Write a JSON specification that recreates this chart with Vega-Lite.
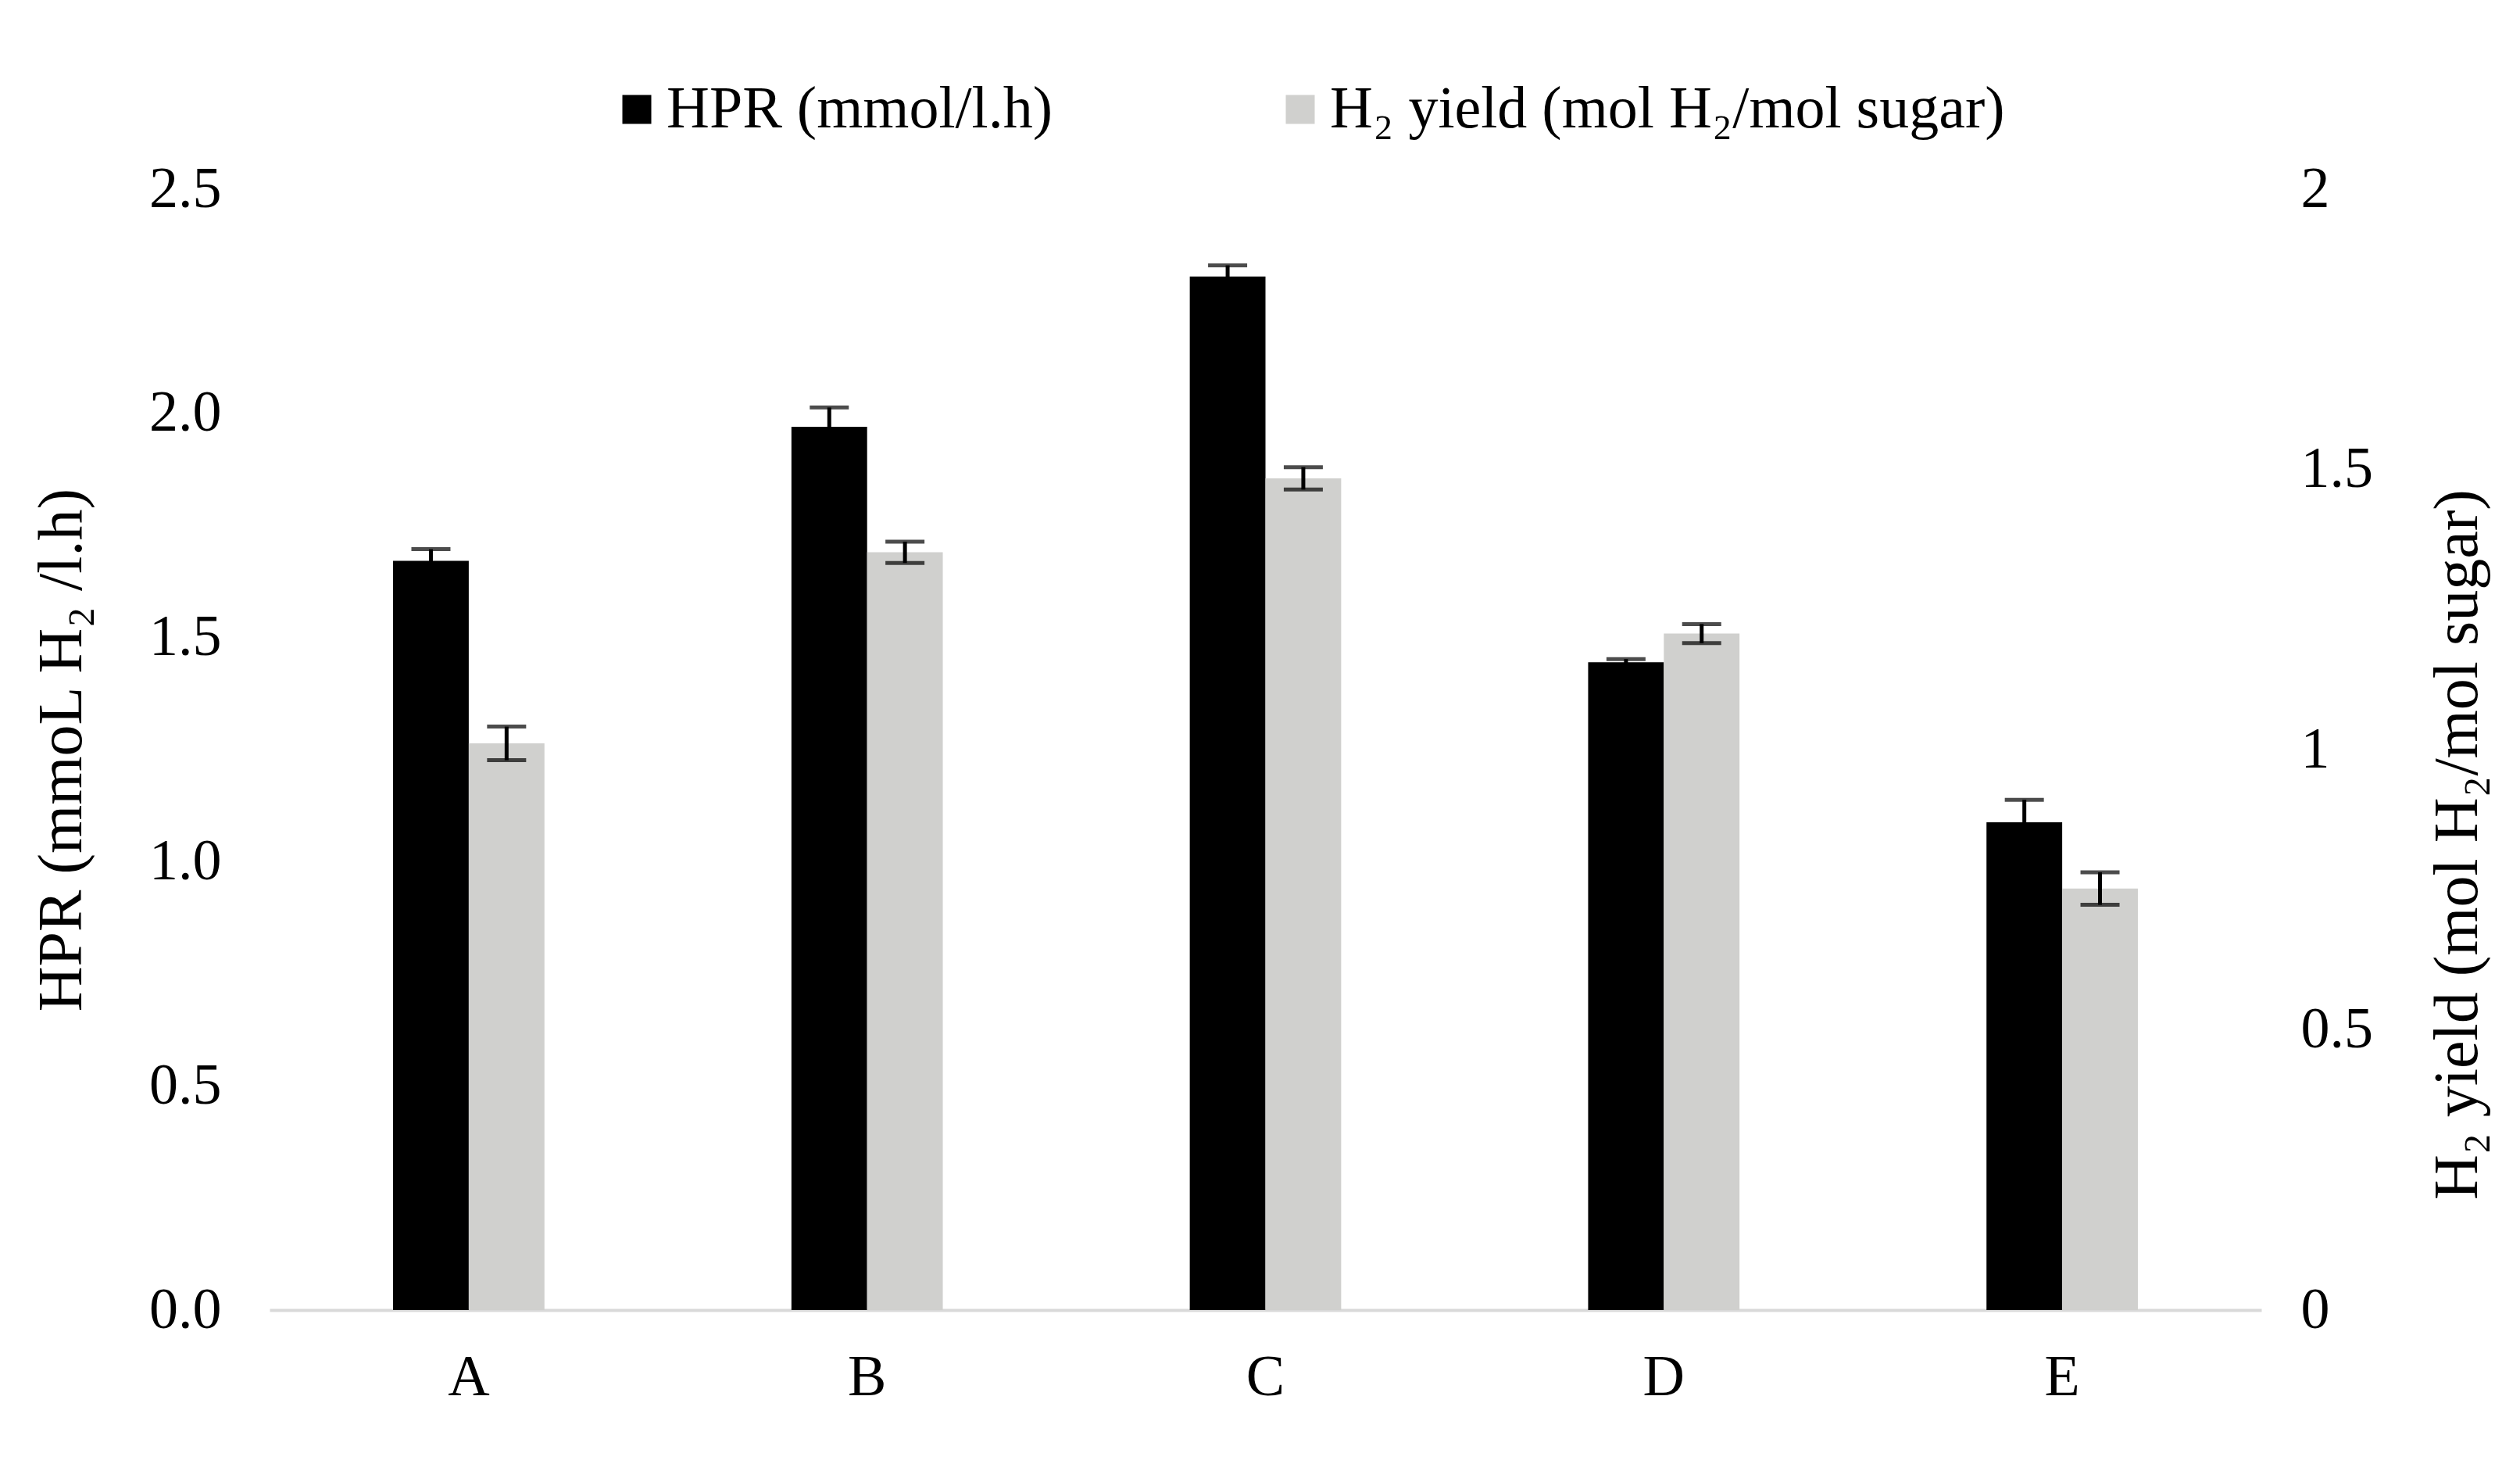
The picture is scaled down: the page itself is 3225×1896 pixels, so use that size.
{
  "$schema": "https://vega.github.io/schema/vega-lite/v6.json",
  "width": 2549,
  "height": 1434,
  "autosize": {"type": "none"},
  "padding": {"left": 345, "top": 242, "right": 331, "bottom": 220},
  "background": "white",
  "config": {
    "font": "Times New Roman",
    "view": {"stroke": null},
    "axis": {"grid": false, "ticks": false, "labelColor": "black", "titleColor": "black", "labelFont": "Times New Roman", "titleFont": "Times New Roman", "titleFontWeight": "normal", "labelLimit": 0, "titleLimit": 0},
    "legend": {"labelFont": "Times New Roman", "labelColor": "black", "labelLimit": 0}
  },
  "datasets": {
    "hpr": [
      {"group": "A", "series": "HPR (mmol/l.h)", "value": 1.671, "lo": 1.645, "hi": 1.697},
      {"group": "B", "series": "HPR (mmol/l.h)", "value": 1.970, "lo": 1.927, "hi": 2.013},
      {"group": "C", "series": "HPR (mmol/l.h)", "value": 2.305, "lo": 2.280, "hi": 2.330},
      {"group": "D", "series": "HPR (mmol/l.h)", "value": 1.445, "lo": 1.438, "hi": 1.452},
      {"group": "E", "series": "HPR (mmol/l.h)", "value": 1.088, "lo": 1.038, "hi": 1.138}
    ],
    "yield": [
      {"group": "A", "series": "H₂ yield (mol H₂/mol sugar)", "value": 1.011, "lo": 0.981, "hi": 1.041},
      {"group": "B", "series": "H₂ yield (mol H₂/mol sugar)", "value": 1.352, "lo": 1.333, "hi": 1.371},
      {"group": "C", "series": "H₂ yield (mol H₂/mol sugar)", "value": 1.484, "lo": 1.464, "hi": 1.504},
      {"group": "D", "series": "H₂ yield (mol H₂/mol sugar)", "value": 1.207, "lo": 1.190, "hi": 1.224},
      {"group": "E", "series": "H₂ yield (mol H₂/mol sugar)", "value": 0.752, "lo": 0.723, "hi": 0.781}
    ]
  },
  "encoding": {
    "x": {
      "field": "group", "type": "nominal",
      "scale": {"domain": ["A", "B", "C", "D", "E"], "paddingInner": 0.62, "paddingOuter": 0.31},
      "axis": {"title": null, "labelAngle": 0, "labelFontSize": 74, "labelPadding": 50, "domainColor": "#D9D9D9", "domainWidth": 4}
    },
    "xOffset": {
      "field": "series", "type": "nominal",
      "scale": {"domain": ["HPR (mmol/l.h)", "H₂ yield (mol H₂/mol sugar)"], "paddingInner": 0, "paddingOuter": 0}
    }
  },
  "layer": [
    {
      "data": {"name": "hpr"},
      "layer": [
        {
          "mark": {"type": "bar"},
          "encoding": {
            "y": {"field": "value", "type": "quantitative", "scale": {"domain": [0, 2.5], "nice": false},
              "axis": {"orient": "left", "title": "HPR (mmoL H₂ /l.h)", "values": [0, 0.5, 1, 1.5, 2, 2.5], "format": ".1f", "domain": false, "labelFontSize": 74, "labelPadding": 62, "titleFontSize": 80, "titlePadding": 70}},
            "color": {"field": "series", "type": "nominal",
              "scale": {"domain": ["HPR (mmol/l.h)", "H₂ yield (mol H₂/mol sugar)"], "range": ["#000000", "#D0D0CE"]},
              "legend": {"orient": "none", "legendX": 432, "legendY": -140, "direction": "horizontal", "title": null, "symbolType": "square", "symbolSize": 1370, "symbolStrokeWidth": 0, "labelFontSize": 76, "labelOffset": 0, "columnPadding": 278}}
          }
        },
        {
          "mark": {"type": "rule", "color": "black", "strokeWidth": 5},
          "encoding": {
            "y": {"field": "lo", "type": "quantitative",
              "axis": {"orient": "left", "title": "HPR (mmoL H₂ /l.h)", "values": [0, 0.5, 1, 1.5, 2, 2.5], "format": ".1f", "domain": false, "labelFontSize": 74, "labelPadding": 62, "titleFontSize": 80, "titlePadding": 70}},
            "y2": {"field": "hi"}
          }
        },
        {
          "mark": {"type": "tick", "color": "black", "thickness": 5, "size": 50, "orient": "horizontal"},
          "encoding": {"y": {"field": "hi", "type": "quantitative",
            "axis": {"orient": "left", "title": "HPR (mmoL H₂ /l.h)", "values": [0, 0.5, 1, 1.5, 2, 2.5], "format": ".1f", "domain": false, "labelFontSize": 74, "labelPadding": 62, "titleFontSize": 80, "titlePadding": 70}}}
        },
        {
          "mark": {"type": "tick", "color": "black", "thickness": 5, "size": 50, "orient": "horizontal"},
          "encoding": {"y": {"field": "lo", "type": "quantitative",
            "axis": {"orient": "left", "title": "HPR (mmoL H₂ /l.h)", "values": [0, 0.5, 1, 1.5, 2, 2.5], "format": ".1f", "domain": false, "labelFontSize": 74, "labelPadding": 62, "titleFontSize": 80, "titlePadding": 70}}}
        }
      ]
    },
    {
      "data": {"name": "yield"},
      "layer": [
        {
          "mark": {"type": "bar"},
          "encoding": {
            "y": {"field": "value", "type": "quantitative", "scale": {"domain": [0, 2], "nice": false},
              "axis": {"orient": "right", "title": "H₂ yield (mol H₂/mol sugar)", "values": [0, 0.5, 1, 1.5, 2], "format": "~g", "domain": false, "labelFontSize": 74, "labelPadding": 50, "titleFontSize": 80, "titlePadding": 70, "titleAngle": 270, "titleBaseline": "top", "titleY": 838}},
            "color": {"field": "series", "type": "nominal",
              "scale": {"domain": ["HPR (mmol/l.h)", "H₂ yield (mol H₂/mol sugar)"], "range": ["#000000", "#D0D0CE"]}}
          }
        },
        {
          "mark": {"type": "rule", "color": "black", "strokeWidth": 5},
          "encoding": {
            "y": {"field": "lo", "type": "quantitative",
              "axis": {"orient": "right", "title": "H₂ yield (mol H₂/mol sugar)", "values": [0, 0.5, 1, 1.5, 2], "format": "~g", "domain": false, "labelFontSize": 74, "labelPadding": 50, "titleFontSize": 80, "titlePadding": 70, "titleAngle": 270, "titleBaseline": "top", "titleY": 838}},
            "y2": {"field": "hi"}
          }
        },
        {
          "mark": {"type": "tick", "color": "black", "thickness": 5, "size": 50, "orient": "horizontal"},
          "encoding": {"y": {"field": "hi", "type": "quantitative",
            "axis": {"orient": "right", "title": "H₂ yield (mol H₂/mol sugar)", "values": [0, 0.5, 1, 1.5, 2], "format": "~g", "domain": false, "labelFontSize": 74, "labelPadding": 50, "titleFontSize": 80, "titlePadding": 70, "titleAngle": 270, "titleBaseline": "top", "titleY": 838}}}
        },
        {
          "mark": {"type": "tick", "color": "black", "thickness": 5, "size": 50, "orient": "horizontal"},
          "encoding": {"y": {"field": "lo", "type": "quantitative",
            "axis": {"orient": "right", "title": "H₂ yield (mol H₂/mol sugar)", "values": [0, 0.5, 1, 1.5, 2], "format": "~g", "domain": false, "labelFontSize": 74, "labelPadding": 50, "titleFontSize": 80, "titlePadding": 70, "titleAngle": 270, "titleBaseline": "top", "titleY": 838}}}
        }
      ]
    }
  ],
  "resolve": {"scale": {"y": "independent"}}
}
